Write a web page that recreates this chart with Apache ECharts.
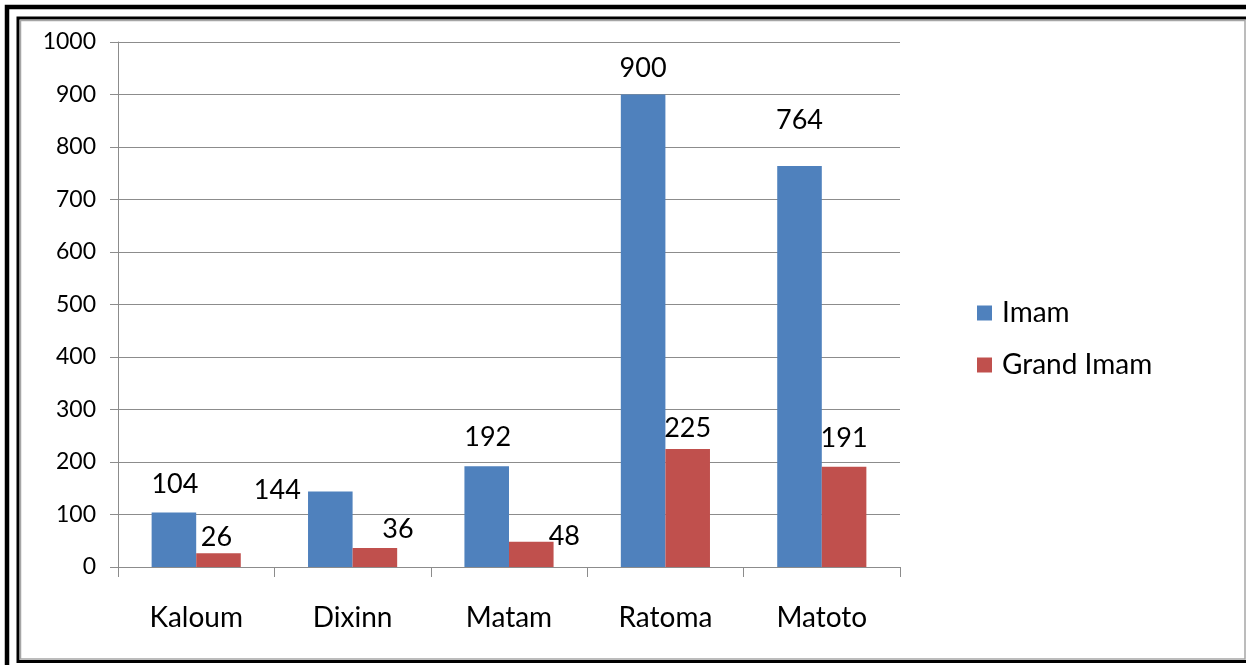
<!DOCTYPE html>
<html>
<head>
<meta charset="utf-8">
<script src="https://cdn.jsdelivr.net/npm/echarts@6/dist/echarts.min.js"></script>
<style>
html,body{margin:0;padding:0;background:#fff;}
#chart{width:1246px;height:665px;}
</style>
</head>
<body>
<div id="chart"></div>
<script>
var categories = ['Kaloum', 'Dixinn', 'Matam', 'Ratoma', 'Matoto'];
var imam = [104, 144, 192, 900, 764];
var grandImam = [26, 36, 48, 225, 191];
var seriesNames = ['Imam', 'Grand Imam'];
var yTicks = [0, 100, 200, 300, 400, 500, 600, 700, 800, 900, 1000];

// label nudges (style only), Excel-like label placement
var imamLabelNudge = [[1, -15], [-53, 12], [1, -15], [0, -13], [0, -32]];
var grandLabelNudge = [[-2, -3], [23, -5], [33, 8], [0, -7], [0, -15]];

var FONT = 'Lato';

function buildData(values, nudges) {
  return values.map(function (v, i) {
    return { value: v, label: { offset: nudges[i] } };
  });
}

var chart = echarts.init(document.getElementById('chart'), null, { renderer: 'canvas' });

var labelStyle = {
  show: true,
  position: 'top',
  distance: 0,
  fontFamily: FONT,
  fontSize: 27,
  color: '#000'
};

chart.setOption({
  animation: false,
  backgroundColor: '#fff',
  textStyle: { fontFamily: FONT },
  graphic: [
    { type: 'rect', shape: { x: 7, y: 7, width: 1300, height: 700 }, style: { fill: 'none', stroke: '#000', lineWidth: 4.5 }, z: 100 },
    { type: 'rect', shape: { x: 18, y: 18, width: 1300, height: 643.5 }, style: { fill: 'none', stroke: '#000', lineWidth: 3 }, z: 100 },
    { type: 'rect', shape: { x: 20.5, y: 20.5, width: 1224.5, height: 638.5 }, style: { fill: 'none', stroke: '#a6a6a6', lineWidth: 1.5 }, z: 100 }
  ],
  grid: { left: 118, right: 346, top: 42, bottom: 98, containLabel: false },
  legend: {
    orient: 'vertical',
    left: 972,
    top: 294,
    itemWidth: 15,
    itemHeight: 15,
    itemGap: 24,
    icon: 'rect',
    data: seriesNames,
    textStyle: { fontFamily: FONT, fontSize: 28, color: '#000', lineHeight: 28, padding: [0, 0, 0, 5] }
  },
  xAxis: {
    type: 'category',
    data: categories,
    axisLine: { show: true, lineStyle: { color: '#8c8c8c', width: 1 } },
    axisTick: { show: true, length: 10, alignWithLabel: false, lineStyle: { color: '#8c8c8c' } },
    axisLabel: { fontFamily: FONT, fontSize: 28, color: '#000', margin: 37 },
    splitLine: { show: false }
  },
  yAxis: {
    type: 'value',
    min: yTicks[0],
    max: yTicks[yTicks.length - 1],
    interval: 100,
    axisLine: { show: true, lineStyle: { color: '#8c8c8c', width: 1 } },
    axisTick: { show: true, length: 8, lineStyle: { color: '#8c8c8c' } },
    axisLabel: { fontFamily: FONT, fontSize: 23, color: '#000', margin: 22, formatter: function (v) { return String(v); } },
    splitLine: { show: true, lineStyle: { color: '#8c8c8c', width: 1 } }
  },
  series: [
    {
      name: seriesNames[0],
      type: 'bar',
      data: buildData(imam, imamLabelNudge),
      barGap: '0%',
      barCategoryGap: '43%',
      itemStyle: { color: '#4F81BD' },
      label: labelStyle
    },
    {
      name: seriesNames[1],
      type: 'bar',
      data: buildData(grandImam, grandLabelNudge),
      barGap: '0%',
      barCategoryGap: '43%',
      itemStyle: { color: '#C0504D' },
      label: labelStyle
    }
  ]
});
</script>
</body>
</html>
